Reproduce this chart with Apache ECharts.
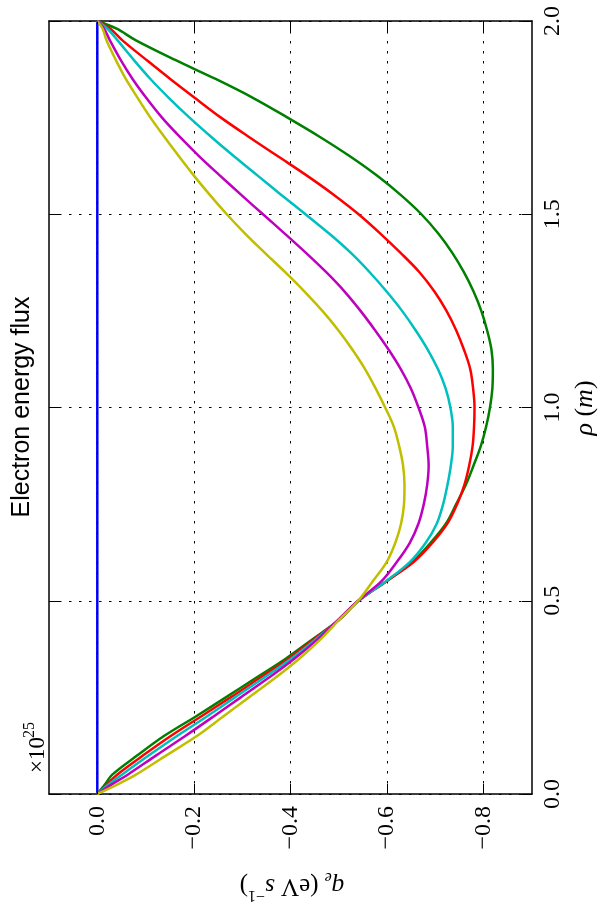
<!DOCTYPE html>
<html><head><meta charset="utf-8">
<script src="https://cdn.jsdelivr.net/npm/echarts@6/dist/echarts.min.js"></script>
<style>html,body{margin:0;padding:0;background:#fff}#c{width:600px;height:913px}</style>
</head><body><div id="c"></div>
<script>
// rho (m) sample positions
const rho = [0, 0.025, 0.05, 0.1, 0.15, 0.2, 0.25, 0.3, 0.35, 0.4, 0.45, 0.5, 0.55, 0.6, 0.65, 0.7, 0.75, 0.8, 0.85, 0.9, 0.95, 1.0, 1.05, 1.1, 1.15, 1.2, 1.25, 1.3, 1.35, 1.4, 1.45, 1.5, 1.55, 1.6, 1.65, 1.7, 1.75, 1.8, 1.85, 1.9, 1.95, 1.98, 2.0];
// q_e (x 1e25 eV s^-1)
const qBlue = [0, 0, 0, 0, 0, 0, 0, 0, 0, 0, 0, 0, 0, 0, 0, 0, 0, 0, 0, 0, 0, 0, 0, 0, 0, 0, 0, 0, 0, 0, 0, 0, 0, 0, 0, 0, 0, 0, 0, 0, 0, 0, 0];
const qGreen = [0, -0.016, -0.031, -0.083, -0.138, -0.203, -0.266, -0.328, -0.390, -0.445, -0.500, -0.541, -0.598, -0.652, -0.690, -0.722, -0.743, -0.763, -0.779, -0.794, -0.805, -0.813, -0.818, -0.819, -0.816, -0.807, -0.795, -0.779, -0.759, -0.735, -0.706, -0.671, -0.628, -0.579, -0.523, -0.461, -0.394, -0.324, -0.245, -0.160, -0.080, -0.040, 0];
const qRed = [0, -0.020, -0.041, -0.095, -0.152, -0.214, -0.276, -0.336, -0.396, -0.448, -0.500, -0.541, -0.598, -0.655, -0.694, -0.725, -0.745, -0.760, -0.770, -0.777, -0.780, -0.781, -0.778, -0.772, -0.759, -0.743, -0.723, -0.698, -0.667, -0.628, -0.586, -0.541, -0.490, -0.434, -0.374, -0.314, -0.256, -0.203, -0.151, -0.101, -0.052, -0.027, 0];
const qCyan = [0, -0.024, -0.051, -0.107, -0.165, -0.226, -0.285, -0.344, -0.401, -0.452, -0.499, -0.541, -0.597, -0.647, -0.680, -0.703, -0.716, -0.725, -0.732, -0.736, -0.736, -0.731, -0.721, -0.705, -0.684, -0.659, -0.631, -0.599, -0.564, -0.525, -0.480, -0.431, -0.381, -0.332, -0.283, -0.236, -0.191, -0.149, -0.110, -0.075, -0.042, -0.021, 0];
const qMagenta = [0, -0.030, -0.063, -0.122, -0.182, -0.240, -0.297, -0.354, -0.408, -0.456, -0.498, -0.540, -0.588, -0.620, -0.647, -0.665, -0.676, -0.683, -0.686, -0.683, -0.678, -0.665, -0.649, -0.628, -0.603, -0.575, -0.545, -0.512, -0.474, -0.432, -0.388, -0.343, -0.298, -0.254, -0.211, -0.171, -0.134, -0.102, -0.073, -0.048, -0.026, -0.014, 0];
const qYellow = [0, -0.042, -0.080, -0.143, -0.206, -0.260, -0.314, -0.368, -0.418, -0.462, -0.500, -0.540, -0.570, -0.599, -0.617, -0.629, -0.635, -0.636, -0.633, -0.625, -0.614, -0.596, -0.576, -0.554, -0.528, -0.499, -0.466, -0.429, -0.389, -0.347, -0.306, -0.268, -0.233, -0.200, -0.169, -0.139, -0.110, -0.084, -0.059, -0.038, -0.019, -0.011, 0];
const qTicks = [0, -0.2, -0.4, -0.6, -0.8];

const seriesDefs = [
  {name: 'b', q: qBlue, color: '#0000ff'},
  {name: 'g', q: qGreen, color: '#008000'},
  {name: 'r', q: qRed, color: '#ff0000'},
  {name: 'c', q: qCyan, color: '#00bfbf'},
  {name: 'm', q: qMagenta, color: '#bf00bf'},
  {name: 'y', q: qYellow, color: '#bfbf00'}
];

const serif = '"Liberation Serif", "DejaVu Serif", serif';
const dotted = {type: [2.5, 7.5], color: '#000', width: 1};
const frameLine = {show: true, onZero: false, lineStyle: {color: '#000', width: 1.5}};

const chart = echarts.init(document.getElementById('c'));
const series = seriesDefs.map((s, i) => {
  const o = {
    name: s.name,
    type: 'line',
    xAxisIndex: 0,
    yAxisIndex: 0,
    data: rho.map((r, k) => [s.q[k], r]),
    showSymbol: false,
    symbol: 'none',
    smooth: 0.35,
    lineStyle: {color: s.color, width: 2.5},
    itemStyle: {color: s.color},
    animation: false
  };
  if (i === 0) {
    o.markLine = {
      silent: true, symbol: ['none', 'none'], label: {show: false},
      lineStyle: dotted, data: [{xAxis: 0}], animation: false
    };
  }
  return o;
});

chart.setOption({
  animation: false,
  grid: {left: 49, right: 68, top: 21, bottom: 119, containLabel: false},
  xAxis: [
    {
      type: 'value', position: 'bottom', min: -0.9, max: 0.1, inverse: true,
      axisLine: frameLine,
      axisTick: {show: true, inside: true, length: 10, customValues: qTicks, lineStyle: {color: '#000', width: 1}},
      axisLabel: {show: true, customValues: qTicks, rotate: 90, margin: 12, color: '#000', fontFamily: serif, fontSize: 24,
        formatter: v => (Math.abs(v) < 1e-9 ? '0.0' : (v < 0 ? '\u2212' : '') + Math.abs(v).toFixed(1))},
      splitLine: {show: true, lineStyle: dotted}
    },
    {
      type: 'value', position: 'top', min: -0.9, max: 0.1, inverse: true,
      axisLine: frameLine,
      axisTick: {show: true, inside: true, length: 10, customValues: qTicks, lineStyle: {color: '#000', width: 1}},
      axisLabel: {show: false},
      splitLine: {show: false}
    }
  ],
  yAxis: [
    {
      type: 'value', position: 'right', min: 0, max: 2, interval: 0.5,
      axisLine: frameLine,
      axisTick: {show: true, inside: true, length: 10, lineStyle: {color: '#000', width: 1}},
      axisLabel: {show: true, rotate: 90, margin: 9, color: '#000', fontFamily: serif, fontSize: 24,
        showMinLabel: true, showMaxLabel: true, formatter: v => v.toFixed(1)},
      splitLine: {show: true, lineStyle: dotted}
    },
    {
      type: 'value', position: 'left', min: 0, max: 2, interval: 0.5,
      axisLine: frameLine,
      axisTick: {show: true, inside: true, length: 10, lineStyle: {color: '#000', width: 1}},
      axisLabel: {show: false},
      splitLine: {show: false}
    }
  ],
  series: series,
  graphic: [
    {type: 'text', x: 22, y: 407, rotation: Math.PI / 2, z: 100,
      style: {text: 'Electron energy flux', font: '25px "Liberation Sans", Arial, sans-serif', fill: '#000', align: 'center', verticalAlign: 'middle'}},
    {type: 'text', x: 585, y: 408, rotation: Math.PI / 2, z: 100,
      style: {text: '{i|\u03c1} ({i|m})', font: '26px ' + serif, fill: '#000', align: 'center', verticalAlign: 'middle',
        rich: {i: {fontStyle: 'italic', fontSize: 26, fontFamily: serif}}}},
    {type: 'text', x: 292, y: 886, rotation: Math.PI, z: 100,
      style: {text: '{i|q}{sub|e}{n| (eV }{i|s}{sup|\u22121}{n|)}', font: '25px ' + serif, fill: '#000', align: 'center', verticalAlign: 'middle',
        rich: {
          i: {fontStyle: 'italic', fontSize: 25, fontFamily: serif, lineHeight: 34},
          n: {fontSize: 25, fontFamily: serif, lineHeight: 34},
          sub: {fontStyle: 'italic', fontSize: 16, fontFamily: serif, verticalAlign: 'bottom', lineHeight: 34},
          sup: {fontSize: 16, fontFamily: serif, verticalAlign: 'top', lineHeight: 34}
        }}},
    {type: 'text', x: 38, y: 773, rotation: Math.PI / 2, z: 100,
      style: {text: '\u00d710', fontSize: 23, fontFamily: serif, fill: '#000', align: 'left', verticalAlign: 'middle'}},
    {type: 'text', x: 30, y: 738, rotation: Math.PI / 2, z: 100,
      style: {text: '25', fontSize: 16, fontFamily: serif, fill: '#000', align: 'left', verticalAlign: 'middle'}}
  ]
});
</script>
</body></html>
